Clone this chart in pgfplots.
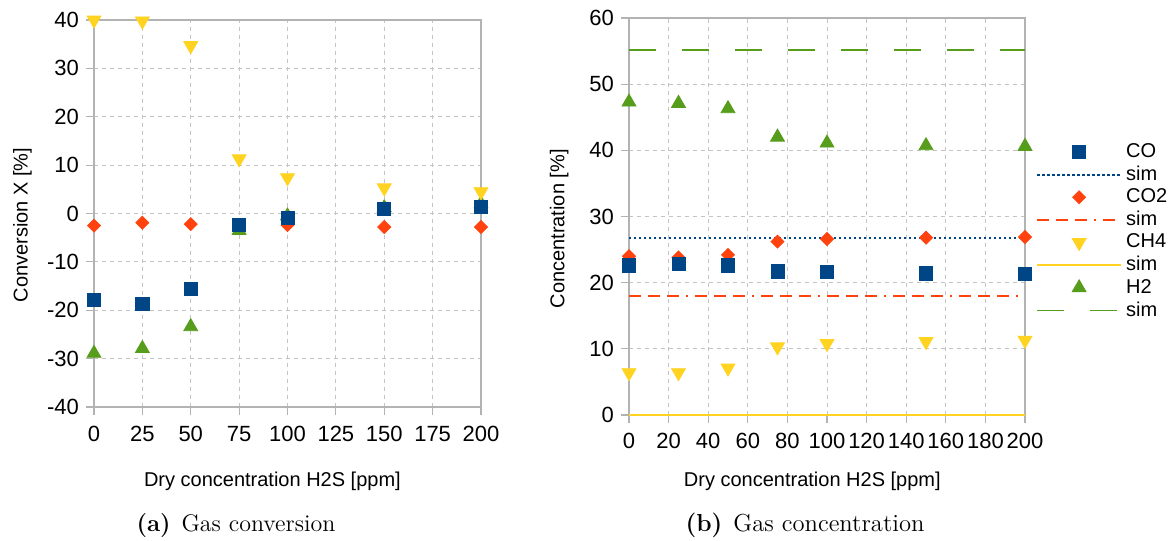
\documentclass[border=0pt]{standalone}
\usepackage{fontspec}
\usepackage{pgfplots}
\pgfplotsset{compat=1.18}
\newfontfamily\arial{Liberation Sans}
\definecolor{cCO}{HTML}{004586}
\definecolor{cCOtwo}{HTML}{FF420E}
\definecolor{cCH}{HTML}{FFD320}
\definecolor{cH}{HTML}{579D1C}
\definecolor{gridc}{HTML}{C4C4C4}
\definecolor{axc}{HTML}{B3B3B3}
\pgfplotsset{
  base/.style={
    scale only axis,
    font=\arial\fontsize{10}{12}\selectfont,
    tick label style={font=\arial\fontsize{11}{12}\selectfont},
    /pgf/number format/assume math mode=true,
    axis line style={axc, line width=0.6pt},
    tick style={axc, line width=0.6pt},
    tick align=outside,
    major tick length=4pt,
    xtick pos=left, ytick pos=left,
    grid=major,
    major grid style={gridc, dash pattern=on 2pt off 2pt, line width=0.4pt},
    clip=false,
    legend image code/.code={\draw[mark repeat=2,mark phase=2,##1] plot coordinates {(0pt,0pt) (21pt,0pt) (42pt,0pt)};},
  },
  mCO/.style={only marks, mark=square*, mark size=3.3pt, mark options={solid, draw=cCO, fill=cCO}},
  mCOtwo/.style={only marks, mark=square*, mark size=2.3pt, mark options={solid, draw=cCOtwo, fill=cCOtwo, rotate=45}},
  mCH/.style={only marks, mark=triangle*, mark size=4pt, mark options={solid, draw=cCH, fill=cCH, rotate=180}},
  mH/.style={only marks, mark=triangle*, mark size=4pt, mark options={solid, draw=cH, fill=cH}},
}
\begin{document}
\begin{tikzpicture}
\path[use as bounding box] (0,0) rectangle (584pt,270.5pt);
% ---------- (a) Gas conversion ----------
\begin{axis}[base,
  at={(47pt,67pt)}, anchor=south west,
  width=193.5pt, height=193.5pt,
  xmin=0, xmax=200, ymin=-40, ymax=40,
  xtick={0,25,50,75,100,125,150,175,200},
  ytick={-40,-30,-20,-10,0,10,20,30,40},
  xticklabel style={yshift=-2pt},
  xlabel={Dry concentration H2S [ppm]},
  ylabel={Conversion X [\%]},
  xlabel style={at={(axis description cs:0.461,0)}, anchor=center, yshift=-37pt},
  ylabel style={at={(axis description cs:-0.185,0.47)}, anchor=center},
]
\addplot[mCOtwo] coordinates {(0,-2.5) (25,-1.9) (50,-2.2) (75,-3.0) (100,-2.4) (150,-2.8) (200,-2.8)};
\addplot[mH] coordinates {(0,-28.9) (25,-27.9) (50,-23.4) (75,-3.5) (100,-0.5) (150,1.2) (200,2.0)};
\addplot[mCH] coordinates {(0,40) (25,39.8) (50,34.7) (75,11.3) (100,7.4) (150,5.3) (200,4.5)};
\addplot[mCO] coordinates {(0,-17.9) (25,-18.7) (50,-15.6) (75,-2.3) (100,-0.9) (150,1.0) (200,1.4)};
\end{axis}
% ---------- (b) Gas concentration ----------
\begin{axis}[base,
  at={(314.5pt,63pt)}, anchor=south west,
  width=198pt, height=198.5pt,
  xmin=0, xmax=200, ymin=0, ymax=60,
  xtick={0,20,40,60,80,100,120,140,160,180,200},
  ytick={0,10,20,30,40,50,60},
  xticklabel style={yshift=-1.5pt},
  xlabel={Dry concentration H2S [ppm]},
  ylabel={Concentration [\%]},
  xlabel style={at={(axis description cs:0.463,0)}, anchor=center, yshift=-33pt},
  ylabel style={at={(axis description cs:-0.176,0.469)}, anchor=center},
  legend style={draw=none, fill=none, at={(1.012,0.705)}, anchor=north west,
    font=\arial\fontsize{10}{12}\selectfont, row sep=-1.3pt,
    nodes={inner xsep=2pt}},
  legend cell align=left,
]
\addplot[mCO] coordinates {(0,22.6) (25,22.8) (50,22.6) (75,21.7) (100,21.6) (150,21.4) (200,21.3)};
\addlegendentry{CO}
\addplot[cCO, line width=1pt, dash pattern=on 1.2pt off 1.3pt] coordinates {(0,26.8) (200,26.8)};
\addlegendentry{sim}
\addplot[mCOtwo] coordinates {(0,24.0) (25,23.8) (50,24.2) (75,26.2) (100,26.6) (150,26.8) (200,26.9)};
\addlegendentry{CO2}
\addplot[cCOtwo, line width=1pt, dash pattern=on 6pt off 3.5pt on 6pt off 3.5pt on 6pt off 3.5pt on 1pt off 3.5pt] coordinates {(0,18.05) (199,18.05)};
\addlegendentry{sim}
\addplot[mCH] coordinates {(0,6.4) (25,6.4) (50,7.1) (75,10.3) (100,10.8) (150,11.1) (200,11.3)};
\addlegendentry{CH4}
\addplot[cCH, line width=0.9pt] coordinates {(0,0) (200,0)};
\addlegendentry{sim}
\addplot[mH] coordinates {(0,47.3) (25,47.1) (50,46.3) (75,42.0) (100,41.1) (150,40.7) (200,40.6)};
\addlegendentry{H2}
\addplot[cH, line width=0.8pt, dash pattern=on 13.5pt off 13pt] coordinates {(0,55.2) (200,55.2)};
\addlegendentry{sim}
\addplot[mCO, forget plot] coordinates {(0,22.6) (25,22.8) (50,22.6) (75,21.7) (100,21.6) (150,21.4) (200,21.3)};
\end{axis}
\node[anchor=base, font=\fontsize{12}{14}\selectfont] at (118pt,4.5pt) {\textbf{(a)}\hspace{0.45em}Gas conversion};
\node[anchor=base, font=\fontsize{12.3}{14}\selectfont] at (402.5pt,4.5pt) {\textbf{(b)}\hspace{0.45em}Gas concentration};
\end{tikzpicture}
\end{document}
